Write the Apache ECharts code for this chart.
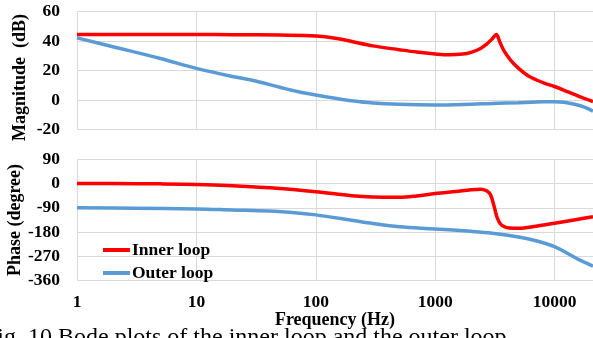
<!DOCTYPE html>
<html>
<head>
<meta charset="utf-8">
<script src="https://cdn.jsdelivr.net/npm/echarts@6/dist/echarts.min.js"></script>
<style>
  html, body { margin: 0; padding: 0; background: #fff; }
  #chart { width: 593px; height: 338px; }
</style>
</head>
<body>
<div id="chart"></div>
<script>
// Bode plot: magnitude (dB) and phase (degree) of the inner and outer loops
const seriesNames = ['Inner loop', 'Outer loop'];

const innerMagFreq = [1, 2, 5, 10, 20, 50, 100, 150, 200, 300, 500, 700, 1000, 1300, 1700, 2000, 2400, 2700, 3000, 3250, 3500, 3800, 4300, 5000, 6000, 7000, 8500, 10000, 13000, 16000, 21000];
const innerMagDb   = [44.5, 44.5, 44.5, 44.5, 44.4, 44.1, 43.5, 41.8, 39.8, 36.8, 34.2, 32.6, 31.3, 30.7, 31.2, 32.4, 35, 38, 41.5, 44.5, 39, 33, 27, 21.5, 16.5, 13.8, 11, 9.2, 5.5, 2.5, -1];

const outerMagFreq = [1, 2, 5, 10, 20, 30, 50, 70, 100, 150, 200, 300, 500, 1000, 2000, 3000, 5000, 8000, 10000, 12000, 15000, 18000, 21000];
const outerMagDb   = [42.2, 36.2, 28.2, 21.5, 16, 13.3, 8.7, 5.8, 3.4, 1, -0.5, -2, -2.9, -3.3, -2.8, -2.3, -1.8, -1.2, -1.1, -1.5, -3, -5, -7.5];

const innerPhaseFreq = [1, 2, 5, 10, 20, 50, 100, 200, 300, 500, 700, 1000, 1500, 2000, 2400, 2700, 2900, 3100, 3300, 3500, 3800, 4200, 5000, 7000, 10000, 15000, 21000];
const innerPhaseDeg  = [0, 0, -1, -3, -8, -18, -30, -45, -50, -51, -46, -37, -29, -23, -21, -27, -40, -80, -125, -148, -160, -165, -166, -158, -147, -134, -123];

const outerPhaseFreq = [1, 3, 10, 20, 40, 70, 100, 200, 300, 500, 1000, 2000, 3000, 5000, 7000, 10000, 13000, 16000, 21000];
const outerPhaseDeg  = [-90, -91, -94, -98, -102, -109, -116, -136, -148, -160, -168, -177, -184, -198, -212, -234, -260, -282, -306];

const magTicks = { min: -20, max: 60, interval: 20 };
const phaseTicks = { min: -360, max: 90, interval: 90 };
const freqRange = { min: 1, max: 21000 };

const captionText = 'Fig. 10 Bode plots of the inner loop and the outer loop';

const pairs = (xs, ys) => xs.map((x, i) => [x, ys[i]]);

const FONT = 'Liberation Serif';
const GRID_COLOR = '#d9d9d9';
const RED = '#ff0000';
const BLUE = '#5b9bd5';

const xAxisBase = {
  type: 'log',
  logBase: 10,
  min: freqRange.min,
  max: freqRange.max,
  axisLine: { show: false },
  axisTick: { show: false },
  splitLine: { show: true, lineStyle: { color: GRID_COLOR, width: 1 } },
  minorSplitLine: { show: false }
};

const yAxisBase = {
  type: 'value',
  axisLine: { show: true, lineStyle: { color: GRID_COLOR, width: 1 } },
  axisTick: { show: false },
  splitLine: { show: true, lineStyle: { color: GRID_COLOR, width: 1 } },
  axisLabel: { color: '#000', fontFamily: FONT, fontWeight: 'bold', fontSize: 17.5, margin: 17 },
  nameLocation: 'middle',
  nameMoveOverlap: false
};

const nameStyle = { color: '#000', fontFamily: FONT, fontWeight: 'bold', fontSize: 18 };

const lineSeries = (name, data, xi, color) => ({
  name,
  type: 'line',
  xAxisIndex: xi,
  yAxisIndex: xi,
  data,
  smooth: 0.35,
  symbol: 'none',
  lineStyle: { color, width: 3.5 },
  itemStyle: { color },
  z: name === seriesNames[0] ? 3 : 2
});

const chart = echarts.init(document.getElementById('chart'), null, { renderer: 'canvas' });
chart.setOption({
  animation: false,
  backgroundColor: '#fff',
  grid: [
    { left: 77, right: 0, top: 11.7, height: 117.8, containLabel: false, outerBoundsMode: 'none' },
    { left: 77, right: 0, top: 159.3, height: 121.4, containLabel: false, outerBoundsMode: 'none' }
  ],
  xAxis: [
    Object.assign({}, xAxisBase, { gridIndex: 0, axisLabel: { show: false } }),
    Object.assign({}, xAxisBase, {
      gridIndex: 1,
      axisLabel: {
        show: true, color: '#000', fontFamily: FONT, fontWeight: 'bold', fontSize: 17.5, margin: 13,
        formatter: (v) => String(Math.round(v))
      },
      name: 'Frequency (Hz)',
      nameLocation: 'middle',
      nameGap: 31,
      nameMoveOverlap: false,
      nameTextStyle: nameStyle
    })
  ],
  yAxis: [
    Object.assign({}, yAxisBase, {
      gridIndex: 0, min: magTicks.min, max: magTicks.max, interval: magTicks.interval,
      name: 'Magnitude  (dB)', nameGap: 48,
      nameTextStyle: Object.assign({}, nameStyle, { padding: [0, 14, 0, 0] })
    }),
    Object.assign({}, yAxisBase, {
      gridIndex: 1, min: phaseTicks.min, max: phaseTicks.max, interval: phaseTicks.interval,
      name: 'Phase (degree)', nameGap: 53,
      nameTextStyle: nameStyle
    })
  ],
  legend: {
    data: seriesNames,
    orient: 'vertical',
    left: 103,
    top: 240,
    padding: 0,
    itemGap: 3,
    itemWidth: 27,
    itemHeight: 4,
    icon: 'rect',
    textStyle: { color: '#000', fontFamily: FONT, fontWeight: 'bold', fontSize: 17.5, lineHeight: 20, padding: [0, 0, 0, -3] }
  },
  graphic: [
    {
      type: 'text',
      left: -16,
      top: 326,
      style: { text: captionText, font: 'normal 24px "Liberation Serif"', fill: '#000' }
    }
  ],
  series: [
    lineSeries(seriesNames[0], pairs(innerMagFreq, innerMagDb), 0, RED),
    lineSeries(seriesNames[1], pairs(outerMagFreq, outerMagDb), 0, BLUE),
    lineSeries(seriesNames[0], pairs(innerPhaseFreq, innerPhaseDeg), 1, RED),
    lineSeries(seriesNames[1], pairs(outerPhaseFreq, outerPhaseDeg), 1, BLUE)
  ]
});
</script>
</body>
</html>
